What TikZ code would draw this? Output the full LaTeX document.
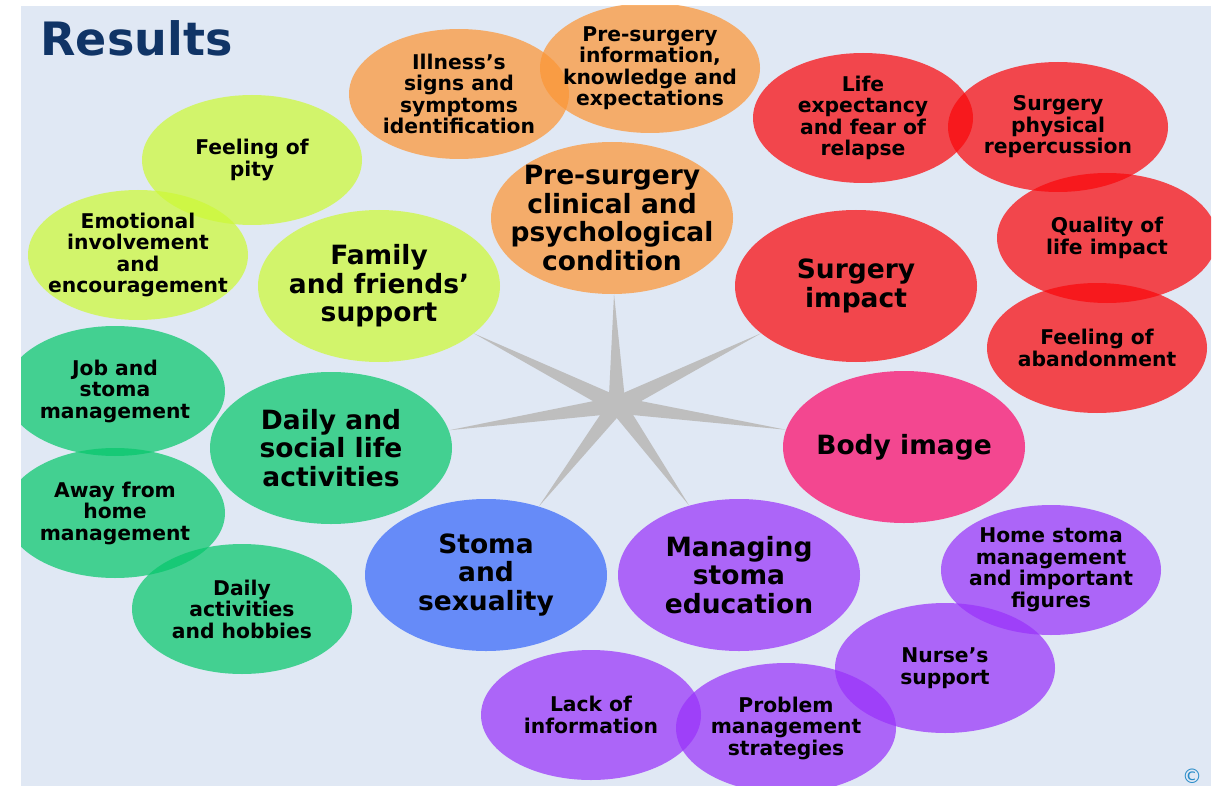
\documentclass[tikz,border=0pt]{standalone}
\usepackage{fontspec}
\setmainfont{DejaVu Sans}
\usetikzlibrary{shapes.geometric,calc,backgrounds}
\definecolor{resNavy}{RGB}{16,52,102}
\definecolor{resBack}{RGB}{224,232,244}
\definecolor{resOrange}{RGB}{252,150,54}
\definecolor{resRed}{RGB}{249,8,12}
\definecolor{resLime}{RGB}{205,249,55}
\definecolor{resGreen}{RGB}{7,199,108}
\definecolor{resBlue}{RGB}{55,104,250}
\definecolor{resPink}{RGB}{251,10,106}
\definecolor{resPurple}{RGB}{153,51,250}
\definecolor{resSpoke}{RGB}{190,190,190}
\definecolor{resCopy}{RGB}{41,140,200}

\begin{document}
\begin{tikzpicture}[x=1pt,y=-1pt,
    blob/.style={ellipse,fill opacity=0.72,text opacity=1,align=center,inner xsep=-40pt,inner ysep=-30pt},
    theme/.style={blob,minimum width=242pt,minimum height=152pt,font=\fontsize{26.5}{28.5}\selectfont\bfseries},
    sub/.style={blob,minimum width=220pt,minimum height=130pt,font=\fontsize{20.3}{21.5}\selectfont\bfseries},
    spoke/.style={fill=resSpoke}
  ]
  \useasboundingbox (0,0) rectangle (1225,786);
  \node[anchor=base west,text=resNavy,font=\fontsize{46}{46}\selectfont\bfseries] (title) at (37,56) {Results};

  \begin{scope}
    \clip (21,6) rectangle (1211,786);
    % main themes round the hub
    \node[theme,fill=resOrange] (pre) at (612,218) {Pre-surgery\\clinical and\\psychological\\condition};
    \node[theme,fill=resRed] (surgery) at (856,286) {Surgery\\impact};
    \node[theme,fill=resPink] (body) at (904,447) {Body image};
    \node[theme,fill=resPurple] (educ) at (739,575) {Managing\\stoma\\education};
    \node[theme,fill=resBlue] (sex) at (486,575) {Stoma\\and\\sexuality};
    \node[theme,fill=resGreen] (daily) at (331,448) {Daily and\\social life\\activities};
    \node[theme,fill=resLime] (family) at (379,286) {Family\\and friends’\\support};

    % sub-themes
    \node[sub,fill=resOrange] (signs) at (459,94) {Illness’s\\signs and\\symptoms\\identification};
    \node[sub,fill=resOrange] (info) at (650,68) {Pre-surgery\\information,\\knowledge and\\expectations};
    \node[sub,fill=resRed] (relapse) at (863,118) {Life\\expectancy\\and fear of\\relapse};
    \node[sub,fill=resRed] (physical) at (1058,127) {Surgery\\physical\\repercussion};
    \node[sub,fill=resRed] (quality) at (1107,238) {Quality of\\life impact};
    \node[sub,fill=resRed] (abandon) at (1097,348) {Feeling of\\abandonment};
    \node[sub,fill=resLime] (pity) at (252,160) {Feeling of\\pity};
    \node[sub,fill=resLime] (emotion) at (138,255) {Emotional\\involvement\\and\\encouragement};
    \node[sub,fill=resGreen] (job) at (115,391) {Job and\\stoma\\management};
    \node[sub,fill=resGreen] (away) at (115,513) {Away from\\home\\management};
    \node[sub,fill=resGreen] (hobbies) at (242,609) {Daily\\activities\\and hobbies};
    \node[sub,fill=resPurple] (home) at (1051,570) {Home stoma\\management\\and important\\figures};
    \node[sub,fill=resPurple] (nurse) at (945,668) {Nurse’s\\support};
    \node[sub,fill=resPurple] (lack) at (591,715) {Lack of\\information};
    \node[sub,fill=resPurple] (problem) at (786,728) {Problem\\management\\strategies};
  \end{scope}

  % star under the themes
  \coordinate (hub) at (617,405);
  \begin{scope}[on background layer]
    \fill[white] (0,0) rectangle (1225,786);
    \fill[resBack] (21,6) rectangle (1211,786);
    \foreach \arm in {pre,surgery,body,educ,sex,daily,family}{
      \path (hub) -- (\arm) coordinate[pos=1] (tip);
      \fill[spoke] ($(hub)!8.5pt!90:(tip)$) -- (tip) -- ($(hub)!8.5pt!-90:(tip)$) -- cycle;
    }
  \end{scope}

  \node[text=resCopy,font=\fontsize{20}{20}\selectfont] (copy) at (1192,776) {©};
\end{tikzpicture}
\end{document}
